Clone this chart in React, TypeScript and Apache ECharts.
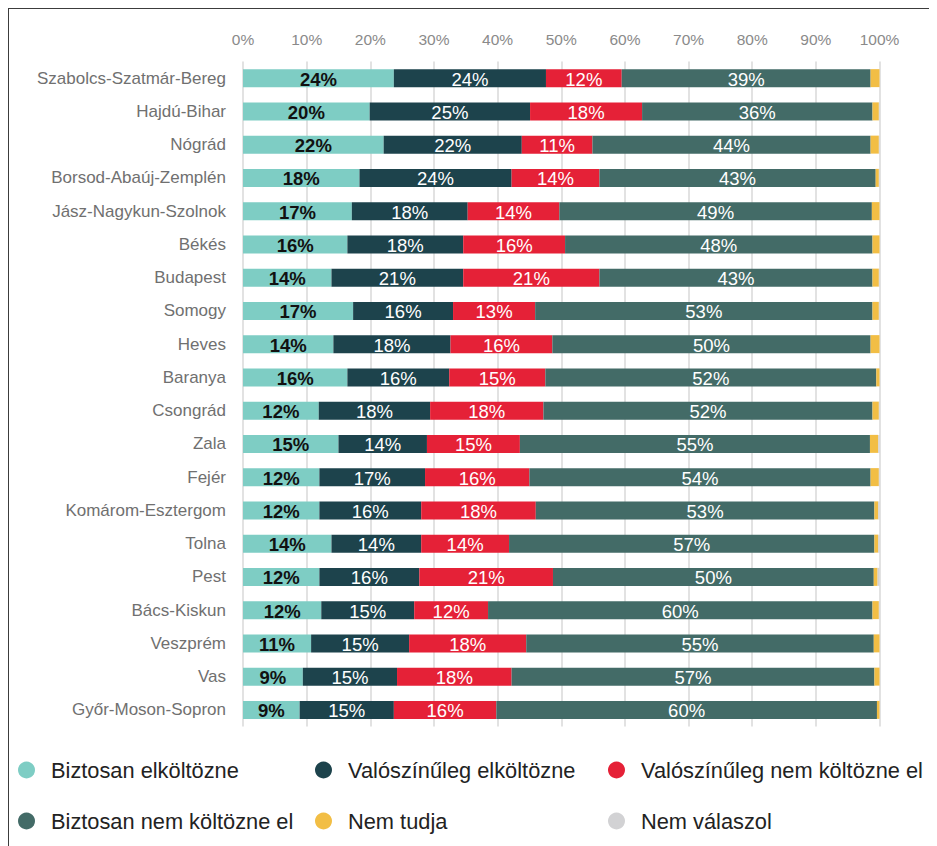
import React, { useEffect, useRef } from "react";
import * as echarts from "echarts";

const categories = [
  "Szabolcs-Szatmár-Bereg",
  "Hajdú-Bihar",
  "Nógrád",
  "Borsod-Abaúj-Zemplén",
  "Jász-Nagykun-Szolnok",
  "Békés",
  "Budapest",
  "Somogy",
  "Heves",
  "Baranya",
  "Csongrád",
  "Zala",
  "Fejér",
  "Komárom-Esztergom",
  "Tolna",
  "Pest",
  "Bács-Kiskun",
  "Veszprém",
  "Vas",
  "Győr-Moson-Sopron",
];

const seriesNames = [
  "Biztosan elköltözne",
  "Valószínűleg elköltözne",
  "Valószínűleg nem költözne el",
  "Biztosan nem költözne el",
  "Nem tudja",
  "Nem válaszol",
];

const biztosanEl = [23.7, 19.9, 22.1, 18.3, 17.1, 16.4, 13.9, 17.3, 14.2, 16.4, 11.9, 15.0, 12.0, 12.0, 13.9, 12.0, 12.3, 10.7, 9.4, 8.9];
const valoszinulegEl = [23.9, 25.2, 21.7, 23.9, 18.2, 18.2, 20.7, 15.7, 18.4, 16.0, 17.5, 13.9, 16.6, 16.0, 14.1, 15.7, 14.6, 15.4, 14.8, 14.8];
const valoszinulegNem = [11.9, 17.6, 11.1, 13.8, 14.4, 16.0, 21.4, 12.9, 16.0, 15.1, 17.8, 14.6, 16.4, 18.0, 13.8, 21.0, 11.6, 18.4, 18.0, 16.1];
const biztosanNem = [39.1, 36.2, 43.7, 43.4, 49.1, 48.3, 42.9, 53.0, 50.0, 52.0, 51.7, 55.0, 53.6, 53.2, 57.4, 50.4, 60.4, 54.6, 57.0, 59.8];
const nemTudja = [1.5, 1.0, 1.3, 0.5, 1.2, 1.2, 1.0, 1.0, 1.5, 0.6, 1.0, 1.3, 1.3, 0.6, 0.6, 0.6, 1.0, 0.9, 0.9, 0.6];
const nemValaszol = [0, 0.1, 0.1, 0.1, 0, 0, 0.1, 0.1, 0, 0, 0.1, 0.2, 0.1, 0.2, 0.2, 0.3, 0.1, 0, 0, 0];

const xTicks = [0, 10, 20, 30, 40, 50, 60, 70, 80, 90, 100];

const colors = ["#7ECDC4", "#1D434C", "#E52137", "#436B67", "#F2BE45", "#D2D2D4"];
const FONT = "'Liberation Sans', Arial, Helvetica, sans-serif";

export default function App() {
  const ref = useRef<HTMLDivElement>(null);

  useEffect(() => {
    if (!ref.current) return;
    const chart = echarts.init(ref.current, null, { renderer: "svg" });
    const values = [biztosanEl, valoszinulegEl, valoszinulegNem, biztosanNem, nemTudja, nemValaszol];

    const series = seriesNames.map((name, i) => ({
      name,
      type: "bar",
      stack: "total",
      barWidth: 18,
      data: values[i],
      itemStyle: { color: colors[i] },
      label:
        i < 4
          ? {
              show: true,
              position: "inside",
              formatter: (p: any) => Math.round(p.value) + "%",
              color: i === 0 ? "#111111" : "#ffffff",
              fontWeight: i === 0 ? "bold" : "normal",
              fontSize: 18.5,
              fontFamily: FONT,
              offset: [0, 1],
            }
          : { show: false },
      emphasis: { disabled: true },
    }));

    const legendPos = [
      { left: 4, top: 745 },
      { left: 301, top: 745 },
      { left: 594, top: 745 },
      { left: 4, top: 796 },
      { left: 301, top: 796 },
      { left: 594, top: 796 },
    ];

    const legend = seriesNames.map((name, i) => ({
      data: [name],
      left: legendPos[i].left,
      top: legendPos[i].top,
      icon: "circle",
      itemWidth: 39,
      itemHeight: 17,
      selectedMode: false,
      textStyle: { fontSize: 21.8, color: "#222222", fontFamily: FONT },
    }));

    chart.setOption({
      animation: false,
      textStyle: { fontFamily: FONT },
      grid: { left: 234, top: 52.5, width: 636.5, height: 665, containLabel: false },
      legend,
      xAxis: {
        type: "value",
        position: "top",
        min: xTicks[0],
        max: xTicks[xTicks.length - 1],
        interval: 10,
        axisLine: { show: false },
        axisTick: { show: false },
        axisLabel: {
          formatter: "{value}%",
          color: "#8a8a8a",
          fontSize: 15.5,
          margin: 14,
          fontFamily: FONT,
        },
        splitLine: { show: true, lineStyle: { color: "#d8d8d8", width: 1.5 } },
      },
      yAxis: {
        type: "category",
        inverse: true,
        data: categories,
        axisLine: { show: false },
        axisTick: { show: false },
        axisLabel: { color: "#707070", fontSize: 17, margin: 17, fontFamily: FONT },
      },
      series,
    });

    return () => chart.dispose();
  }, []);

  return (
    <div style={{ border: "1px solid #3c3c3c", width: 923, height: 845, boxSizing: "content-box" }}>
      <div ref={ref} style={{ width: 923, height: 845 }} />
    </div>
  );
}
